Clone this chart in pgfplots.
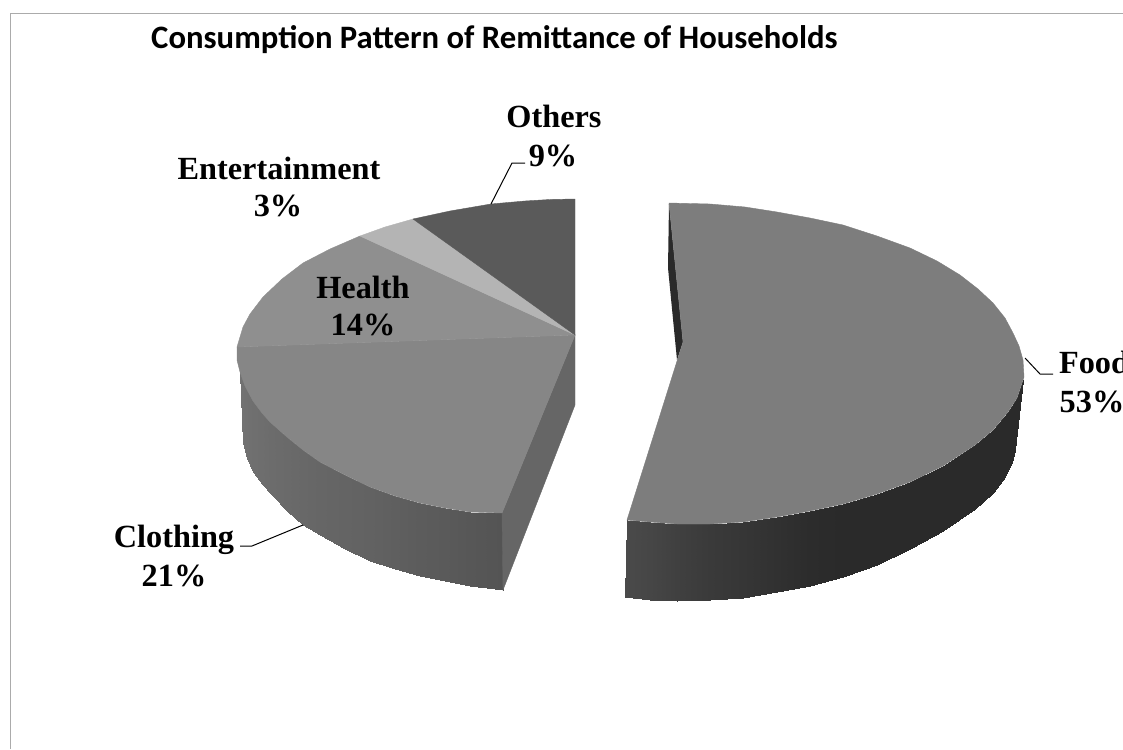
\documentclass[border=0pt]{standalone}
\usepackage{pgfplots}
\pgfplotsset{compat=1.18}
\usepackage{fontspec}
\setmainfont{Liberation Serif}
\newfontfamily\titlefont{Carlito}
\definecolor{cOthers}{HTML}{5A5A5A}
\definecolor{cEnt}{HTML}{B4B4B4}
\definecolor{cHealth}{HTML}{8F8F8F}
\definecolor{cCloth}{HTML}{868686}
\definecolor{cClothIn}{HTML}{666666}
\definecolor{cFood}{HTML}{7D7D7D}
\definecolor{cDark}{HTML}{2A2A2A}
\definecolor{cFrame}{HTML}{ABABAB}
\tikzset{lbl/.style={font=\fontsize{32.3}{38}\selectfont\bfseries, inner sep=0pt, anchor=base, text=black}}
\begin{document}
\begin{tikzpicture}
\path[use as bounding box] (0,0) rectangle (1123pt,749pt);
\clip (0,0) rectangle (1123pt,749pt);
\begin{axis}[
  at={(0,0)}, anchor=south west,
  scale only axis, width=1123pt, height=749pt,
  xmin=0, xmax=1123, ymin=0, ymax=749, y dir=reverse,
  axis lines=none, clip=false,
  colormap/blackwhite,
  point meta min=0, point meta max=255,
]
% frame
\addplot[cFrame, line width=1.4pt] coordinates {(10.5,749) (10.5,13.5) (1123,13.5)};
% clothing side (outer wall)
\addplot[surf, shader=interp, mesh/rows=2, point meta=explicit] table[x=x,y=y,meta=c] {
x y c
240 372 114
245 386 113
253 401 111
262 413 110
270 422 108
287 437 106
303 450 104
320 462 102
345 475 100
370 487 98
395 496 95
420 503 92
445 508 90
470 512 87
502 513 84
243 443 114
247 458 113
253 472 111
262 484 110
272 495 108
287 511 106
303 525 104
320 535 102
345 549 100
370 561 98
395 569 95
420 576 92
445 581 90
470 586 87
503 590 84
};
% clothing inner wall
\addplot[fill=cClothIn, draw=cClothIn, line width=0.4pt] coordinates {(575,335) (502,513) (503,590) (575,405)} --cycle;
% food wall
\addplot[surf, shader=interp, mesh/rows=2, point meta=explicit] table[x=x,y=y,meta=c] {
x y c
627 520 74
650 522 70
677 524 64
710 524 58
743 522 54
777 517 49
810 511 44
843 504 42
877 494 42
910 482 42
943 466 42
975 445 42
993 430 42
1008 412 42
1017 398 42
1023 380 42
625 597 74
650 600 70
677 601 64
710 600 58
743 598 54
777 592 49
810 586 44
843 577 42
877 565 42
910 549 42
943 531 42
975 509 42
993 493 42
1005 477 42
1012 462 42
1015 450 42
};
% food inner sliver
\addplot[fill=cDark, draw=none] coordinates {(669,203) (683,342) (677,360) (668,268)} --cycle;
% top faces
\addplot[fill=cFood, draw=cFood, line width=0.4pt] coordinates {(669,203) (710,204) (745,207) (777,212) (810,218) (843,225) (877,236) (910,248) (937,261) (960,275) (978,289) (993,303) (1005,318) (1013,333) (1019,346) (1023,360) (1024,377) (1023,380) (1017,398) (1008,412) (993,430) (975,445) (943,466) (910,482) (877,494) (843,504) (810,511) (777,517) (743,522) (710,524) (677,524) (650,522) (627,520) (683,342)} --cycle;
\addplot[fill=cCloth, draw=cCloth, line width=0.4pt] coordinates {(575,335) (237,347) (237,360) (240,372) (245,386) (253,401) (262,413) (270,422) (287,437) (303,450) (320,462) (345,475) (370,487) (395,496) (420,503) (445,508) (470,512) (502,513)} --cycle;
\addplot[fill=cHealth, draw=cHealth, line width=0.4pt] coordinates {(575,335) (360,236) (330,249) (303,263) (282,279) (263,297) (250,314) (243,327) (237,347)} --cycle;
\addplot[fill=cEnt, draw=cEnt, line width=0.4pt] coordinates {(575,335) (413,219) (385,227) (360,236)} --cycle;
\addplot[fill=cOthers, draw=cOthers, line width=0.4pt] coordinates {(575,335) (575,199) (550,199.5) (525,201) (491,204) (450,211) (413,219)} --cycle;
% leaders
\addplot[black, line width=1pt] coordinates {(491,204) (512,163) (525,163)};
\addplot[black, line width=1pt] coordinates {(1025,358) (1040,374) (1053,374)};
\addplot[black, line width=1pt] coordinates {(303,525) (252,546) (240,546)};
% labels
\node[lbl] at (axis cs:554,128) {Others};
\node[lbl] at (axis cs:553,166) {9\%};
\node[lbl] at (axis cs:279,179) {Entertainment};
\node[lbl] at (axis cs:278,216) {3\%};
\node[lbl] at (axis cs:363,298) {Health};
\node[lbl] at (axis cs:363,335) {14\%};
\node[lbl] at (axis cs:174,547) {Clothing};
\node[lbl] at (axis cs:174,586) {21\%};
\node[lbl] at (axis cs:1094,373) {Food};
\node[lbl] at (axis cs:1092,412) {53\%};
\node[inner sep=0pt, font=\titlefont\fontsize{32.7}{38}\selectfont\bfseries, anchor=base west] at (axis cs:151,49) {Consumption Pattern of Remittance of Households};
\end{axis}
\end{tikzpicture}
\end{document}
